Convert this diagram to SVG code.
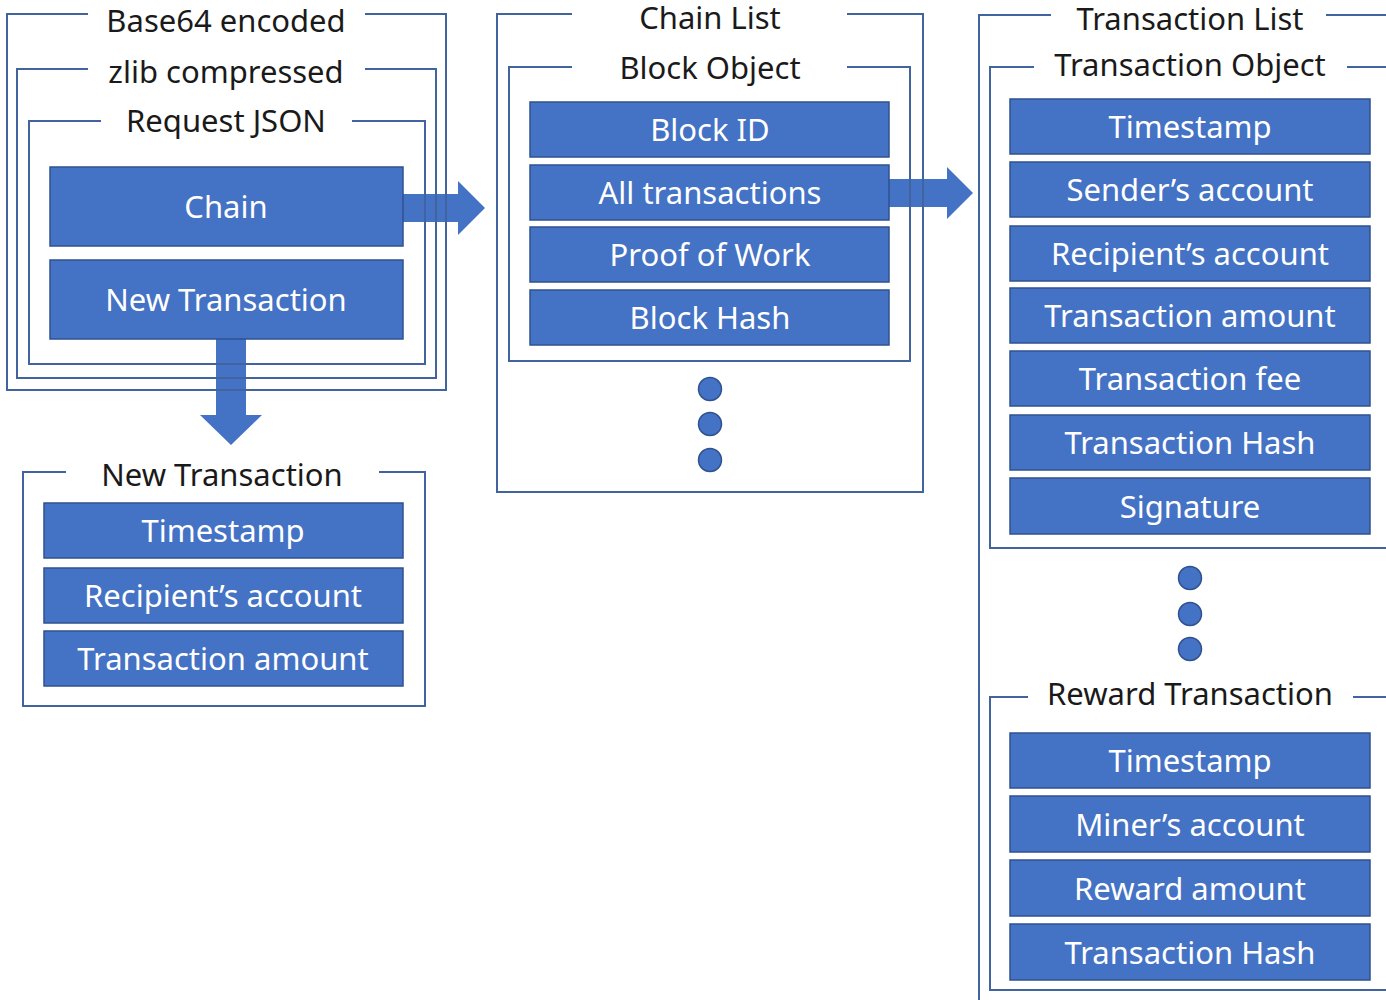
<svg xmlns="http://www.w3.org/2000/svg" width="1386" height="1000" viewBox="0 0 1386 1000">
<style>
.bg{fill:#ffffff}
.frame{fill:none;stroke:#41649f;stroke-width:2}
.box{fill:#4472c4;stroke:#2f528f;stroke-width:1.5}
.arrow{fill:#4472c4;stroke:none}
.dot{fill:#4472c4;stroke:#2f528f;stroke-width:1.5}
.t{font-family:"Noto Sans","Liberation Sans",sans-serif;font-size:31px;text-anchor:middle;fill:#1a1a1a}
.w{font-family:"Noto Sans","Liberation Sans",sans-serif;font-size:31px;text-anchor:middle;fill:#ffffff}
</style>
<rect class="bg" x="0" y="0" width="1386" height="1000"/>

<g id="connectors">
<path class="arrow" d="M403,194 H458 V181 L485,208 L458,235 V222 H403 Z"/>
<path class="arrow" d="M889,179 H947 V167 L973,193 L947,219 V207 H889 Z"/>
<path class="arrow" d="M216,339 V415 H200 L231,445 L262,415 H246 V339 Z"/>
</g>

<g id="base64-frame">
<path class="frame" d="M88,14 H7 V390 H446 V14 H365"/>
<text class="t" x="226" y="32">Base64 encoded</text>
</g>
<g id="zlib-frame">
<path class="frame" d="M88,69 H17 V378 H436 V69 H365"/>
<text class="t" x="226" y="83">zlib compressed</text>
</g>
<g id="request-json">
<path class="frame" d="M101,121 H29 V364 H425 V121 H352"/>
<text class="t" x="226" y="132">Request JSON</text>
</g>
<g id="chain">
<rect class="box" x="50" y="167" width="353" height="79"/>
<text class="w" x="226" y="218">Chain</text>
</g>
<g id="new-transaction">
<rect class="box" x="50" y="260" width="353" height="79"/>
<text class="w" x="226" y="311">New Transaction</text>
</g>

<g id="new-transaction-detail">
<path class="frame" d="M66,472 H23 V706 H425 V472 H379"/>
<text class="t" x="222" y="486">New Transaction</text>
<rect class="box" x="44" y="503" width="359" height="55"/>
<text class="w" x="223" y="542">Timestamp</text>
<rect class="box" x="44" y="568" width="359" height="55"/>
<text class="w" x="223" y="607">Recipient’s account</text>
<rect class="box" x="44" y="631" width="359" height="55"/>
<text class="w" x="223" y="670">Transaction amount</text>
</g>

<g id="chain-list">
<path class="frame" d="M572,14 H497 V492 H923 V14 H847"/>
<text class="t" x="710" y="29">Chain List</text>
<circle class="dot" cx="710" cy="389" r="11.5"/>
<circle class="dot" cx="710" cy="424" r="11.5"/>
<circle class="dot" cx="710" cy="460" r="11.5"/>
</g>
<g id="block-object">
<path class="frame" d="M572,67 H509 V361 H910 V67 H847"/>
<text class="t" x="710" y="79">Block Object</text>
<rect class="box" x="530" y="102" width="359" height="55"/>
<text class="w" x="710" y="141">Block ID</text>
<rect class="box" x="530" y="165" width="359" height="55"/>
<text class="w" x="710" y="204">All transactions</text>
<rect class="box" x="530" y="227" width="359" height="55"/>
<text class="w" x="710" y="266">Proof of Work</text>
<rect class="box" x="530" y="290" width="359" height="55"/>
<text class="w" x="710" y="329">Block Hash</text>
</g>

<g id="transaction-list">
<path class="frame" d="M1051,15 H979 V1000"/>
<path class="frame" d="M1326,15 H1386"/>
<text class="t" x="1190" y="30">Transaction List</text>
<circle class="dot" cx="1190" cy="578" r="11.5"/>
<circle class="dot" cx="1190" cy="614" r="11.5"/>
<circle class="dot" cx="1190" cy="649" r="11.5"/>
</g>
<g id="transaction-object">
<path class="frame" d="M1034,67 H990 V548 H1386"/>
<path class="frame" d="M1347,67 H1386"/>
<text class="t" x="1190" y="76">Transaction Object</text>
<rect class="box" x="1010" y="99" width="360" height="55"/>
<text class="w" x="1190" y="138">Timestamp</text>
<rect class="box" x="1010" y="162" width="360" height="55"/>
<text class="w" x="1190" y="201">Sender’s account</text>
<rect class="box" x="1010" y="226" width="360" height="55"/>
<text class="w" x="1190" y="265">Recipient’s account</text>
<rect class="box" x="1010" y="288" width="360" height="55"/>
<text class="w" x="1190" y="327">Transaction amount</text>
<rect class="box" x="1010" y="351" width="360" height="55"/>
<text class="w" x="1190" y="390">Transaction fee</text>
<rect class="box" x="1010" y="415" width="360" height="55"/>
<text class="w" x="1190" y="454">Transaction Hash</text>
<rect class="box" x="1010" y="478" width="360" height="56"/>
<text class="w" x="1190" y="518">Signature</text>
</g>
<g id="reward-transaction">
<path class="frame" d="M1028,697 H990 V990 H1386"/>
<path class="frame" d="M1353,697 H1386"/>
<text class="t" x="1190" y="705">Reward Transaction</text>
<rect class="box" x="1010" y="733" width="360" height="55"/>
<text class="w" x="1190" y="772">Timestamp</text>
<rect class="box" x="1010" y="796" width="360" height="56"/>
<text class="w" x="1190" y="836">Miner’s account</text>
<rect class="box" x="1010" y="860" width="360" height="56"/>
<text class="w" x="1190" y="900">Reward amount</text>
<rect class="box" x="1010" y="924" width="360" height="56"/>
<text class="w" x="1190" y="964">Transaction Hash</text>
</g>
</svg>
